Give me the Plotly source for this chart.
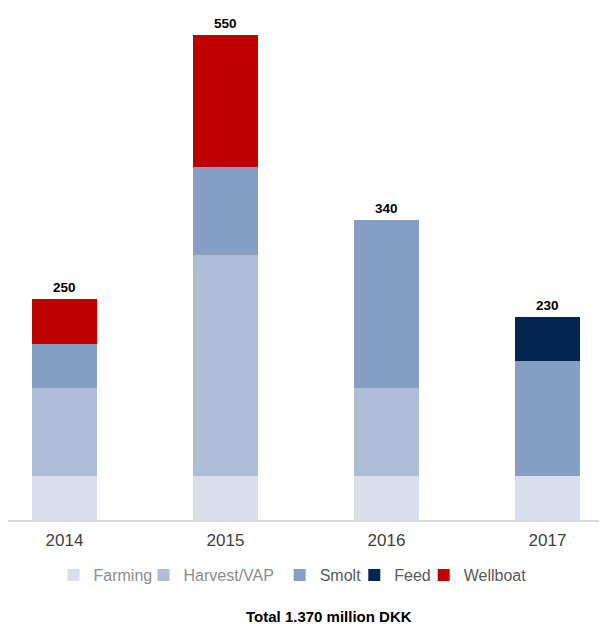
import plotly.graph_objects as go

years = ["2014", "2015", "2016", "2017"]
farming = [50, 50, 50, 50]
harvest = [100, 250, 100, 0]
smolt = [50, 100, 190, 130]
feed = [0, 0, 0, 50]
wellboat = [50, 150, 0, 0]
totals = [250, 550, 340, 230]

series = [
    ("Farming", farming, "#d8dfeb", "#8c8c8c"),
    ("Harvest/VAP", harvest, "#adbdd7", "#8c8c8c"),
    ("Smolt", smolt, "#849fc3", "#595959"),
    ("Feed", feed, "#042451", "#595959"),
    ("Wellboat", wellboat, "#c00000", "#595959"),
]
legend_x = [45.5, 135.5, 271.7, 346.3, 415.7]  # px from plot left

FONT = "Arial, Liberation Sans, sans-serif"
W, H = 599, 616
L, R, T, B = 0, 0, 12, 104
PW = W - L - R

fig = go.Figure()
xs = list(range(len(years)))
legend_layouts = {}
for k, (name, vals, col, tcol) in enumerate(series):
    lname = "legend" if k == 0 else f"legend{k + 1}"
    fig.add_trace(go.Bar(
        x=xs, y=vals, name=f'<span style="color:{tcol}">{name}</span>',
        marker=dict(color=col, line=dict(width=0)), width=0.404,
        hoverinfo="skip", legend=lname,
    ))
    legend_layouts[lname] = dict(
        orientation="h", x=legend_x[k] / PW, xanchor="left", y=-0.11, yanchor="middle",
        font=dict(family=FONT, size=16, color="#595959"), itemwidth=30,
        bgcolor="rgba(0,0,0,0)",
    )

for i, t in enumerate(totals):
    fig.add_annotation(x=xs[i], y=t, text=f"<b>{t}</b>", showarrow=False,
                       yanchor="bottom", yshift=2,
                       font=dict(family=FONT, size=13.5, color="#000000"))

fig.add_annotation(x=0.536, y=-0.192, xref="paper", yref="paper",
                   text="<b>Total 1.370 million DKK</b>", showarrow=False,
                   xanchor="center", yanchor="middle",
                   font=dict(family=FONT, size=15, color="#000000"))

fig.update_layout(
    width=W, height=H,
    margin=dict(l=L, r=R, t=T, b=B),
    barmode="stack",
    plot_bgcolor="white", paper_bgcolor="white",
    font=dict(family=FONT),
    xaxis=dict(range=[-0.351, 3.370], tickmode="array", tickvals=xs, ticktext=years,
               showgrid=False, zeroline=False, showline=True, linecolor="#d9d9d9",
               linewidth=2, ticks="", ticklabelstandoff=4,
               tickfont=dict(family=FONT, size=17, color="#404040"),
               fixedrange=True),
    yaxis=dict(range=[0, 566.8], visible=False, showgrid=False, zeroline=False,
               fixedrange=True),
    showlegend=True,
    **legend_layouts,
)

fig.write_html("out.html")
